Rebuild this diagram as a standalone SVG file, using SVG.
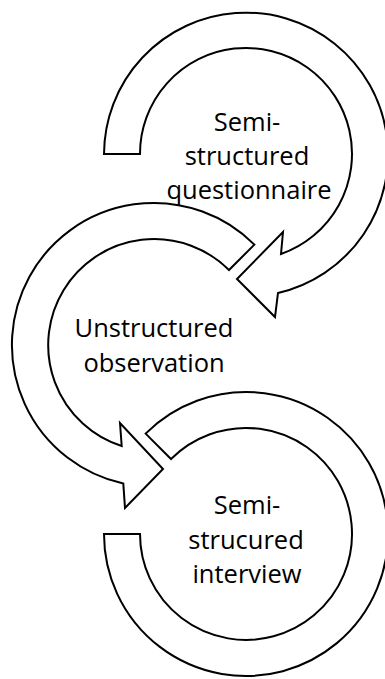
<svg xmlns="http://www.w3.org/2000/svg" width="385" height="679" viewBox="0 0 385 679">
<style>
.arc{fill:#fff;stroke:#000;stroke-width:2;stroke-linejoin:miter}
.lbl{font-family:"Open Sans","Noto Sans",sans-serif;font-size:25.5px;fill:#000;text-anchor:middle}
</style>
<rect width="385" height="679" fill="#fff"/>
<g id="connectors">
<path id="arrow-bottom" class="arc" d="M145.6,433.6 A142,142 0 1,1 104,534 L140,534 A106,106 0 1,0 171,459 Z"/>
<path id="arrow-middle" class="arc" d="M254.4,244.6 A142,142 0 1,0 123.3,483.6 L125,508 L163,469 L120,423 L121.7,446 A106,106 0 1,1 229,270 Z"/>
<path id="arrow-top" class="arc" d="M104,154 A142,142 0 1,1 278,293 L275,317 L237,279 L283,232 L281,254 A106,106 0 1,0 140,154 Z"/>
</g>
<g id="node-questionnaire">
<text class="lbl" x="247" y="131">Semi-</text>
<text class="lbl" x="247" y="165">structured</text>
<text class="lbl" x="249" y="199">questionnaire</text>
</g>
<g id="node-observation">
<text class="lbl" x="154" y="337">Unstructured</text>
<text class="lbl" x="154" y="372">observation</text>
</g>
<g id="node-interview">
<text class="lbl" x="247" y="514">Semi-</text>
<text class="lbl" x="246" y="548.5">strucured</text>
<text class="lbl" x="247" y="583">interview</text>
</g>
</svg>
